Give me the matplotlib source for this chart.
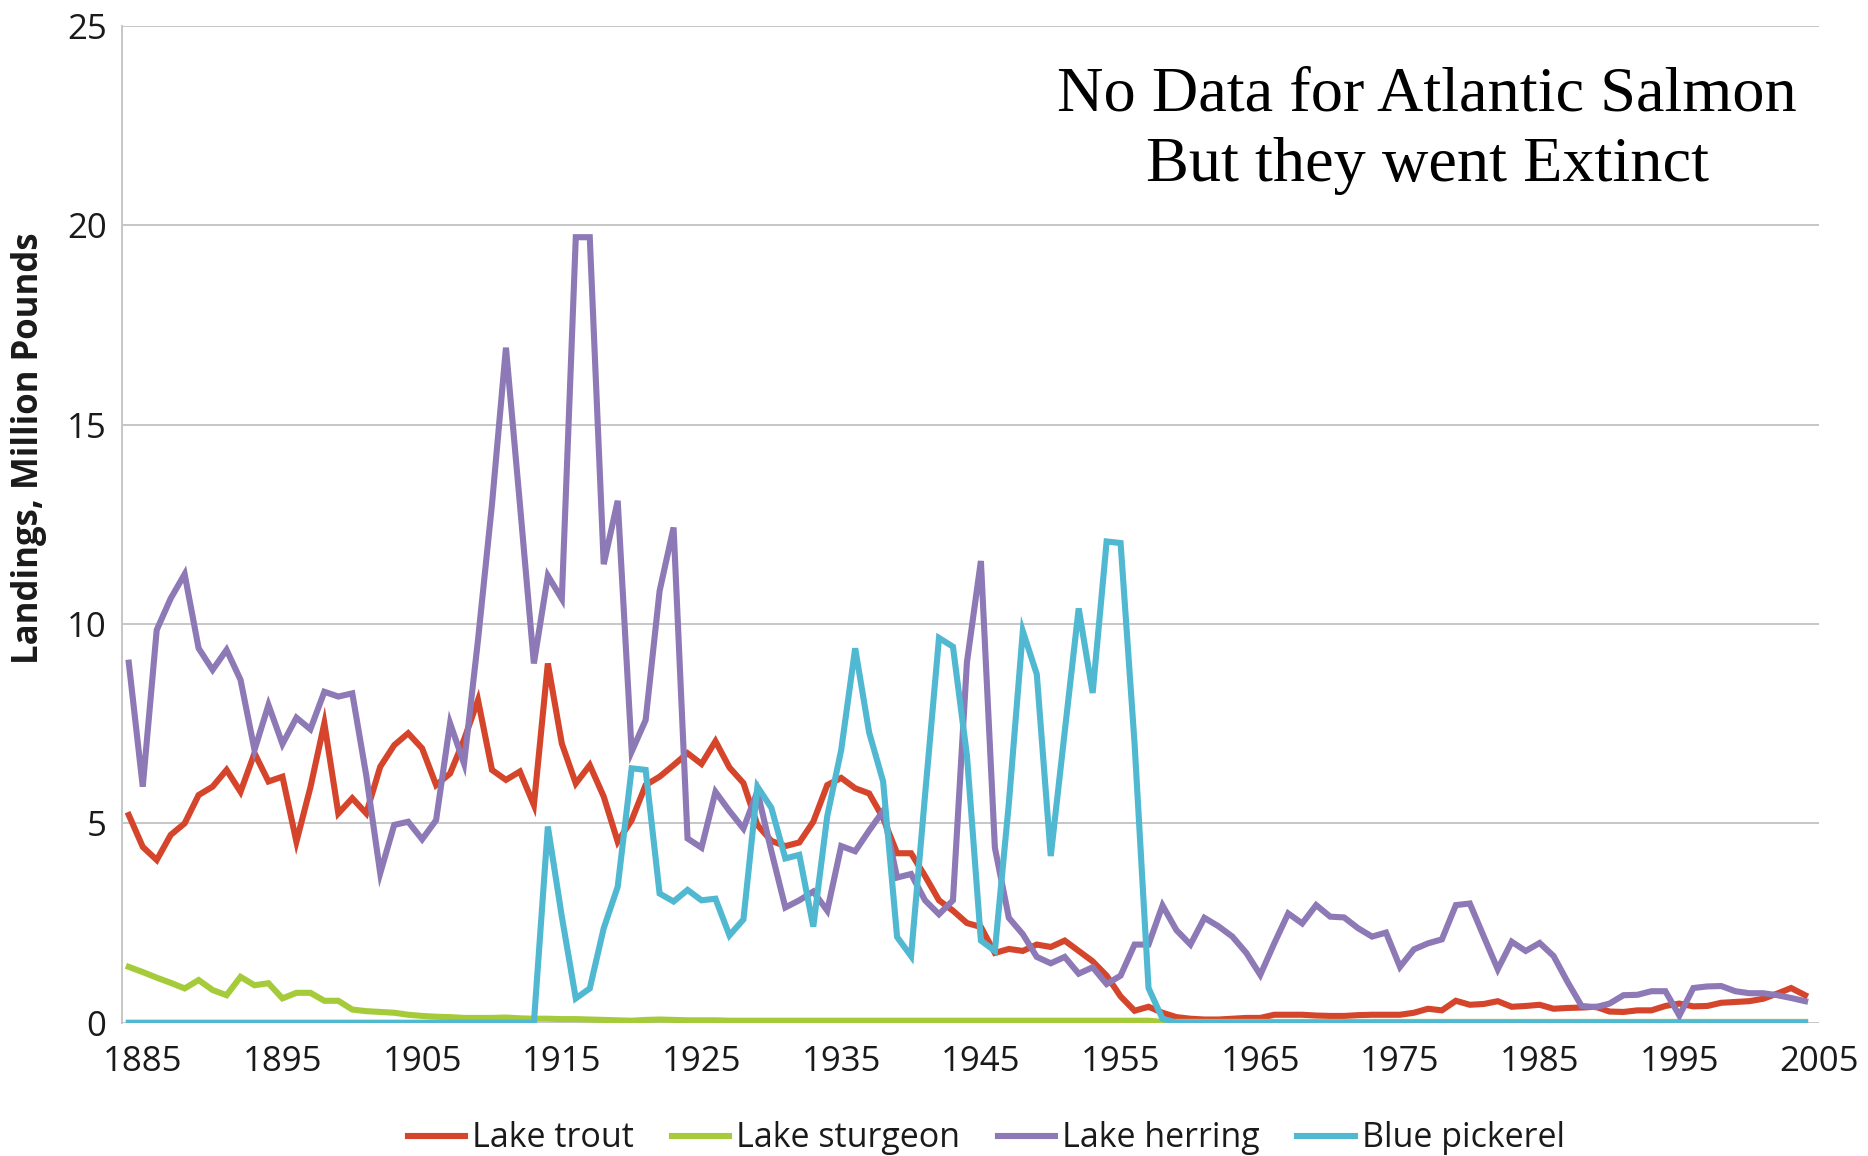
import numpy as np
import matplotlib
matplotlib.use("Agg")
import matplotlib.pyplot as plt

# =============================
# Data (million pounds, 1884-2004)
# =============================
years = np.arange(1884, 2005)

lake_trout = [
    5.21, 4.41, 4.08, 4.71, 5.00, 5.71, 5.92, 6.34, 5.79, 6.76,   # 1884-1893
    6.05, 6.17, 4.54, 5.90, 7.51, 5.25, 5.63, 5.25, 6.42, 6.96,   # 1894-1903
    7.26, 6.88, 5.96, 6.25, 7.10, 8.09, 6.34, 6.09, 6.30, 5.46,   # 1904-1913
    9.01, 7.00, 6.00, 6.46, 5.67, 4.54, 5.08, 5.96, 6.17, 6.46,   # 1914-1923
    6.76, 6.49, 7.06, 6.40, 6.01, 4.96, 4.56, 4.43, 4.52, 5.04,   # 1924-1933
    5.96, 6.14, 5.88, 5.75, 5.13, 4.25, 4.25, 3.68, 3.07, 2.81,   # 1934-1943
    2.50, 2.40, 1.75, 1.85, 1.80, 1.96, 1.90, 2.06, 1.80, 1.54,   # 1944-1953
    1.18, 0.66, 0.30, 0.40, 0.25, 0.14, 0.10, 0.08, 0.08, 0.10,   # 1954-1963
    0.12, 0.12, 0.20, 0.20, 0.20, 0.18, 0.17, 0.17, 0.19, 0.20,   # 1964-1973
    0.20, 0.20, 0.25, 0.35, 0.31, 0.55, 0.45, 0.47, 0.54, 0.40,   # 1974-1983
    0.42, 0.45, 0.35, 0.37, 0.38, 0.40, 0.28, 0.27, 0.31, 0.31,   # 1984-1993
    0.42, 0.48, 0.41, 0.42, 0.50, 0.52, 0.54, 0.60, 0.73, 0.87,   # 1994-2003
    0.69,                                                         # 2004
]

lake_sturgeon = [
    1.40, 1.27, 1.13, 1.00, 0.86, 1.07, 0.82, 0.69, 1.15, 0.94,
    0.99, 0.61, 0.75, 0.75, 0.55, 0.55, 0.33, 0.29, 0.27, 0.25,
    0.20, 0.17, 0.15, 0.14, 0.12, 0.12, 0.12, 0.13, 0.11, 0.10,
    0.10, 0.09, 0.09, 0.08, 0.07, 0.06, 0.05, 0.07, 0.08, 0.07,
    0.06, 0.06, 0.06, 0.05, 0.05, 0.05, 0.05, 0.05, 0.05, 0.05,
    0.05, 0.05, 0.05, 0.05, 0.05, 0.05, 0.05, 0.05, 0.05, 0.05,
    0.05, 0.05, 0.05, 0.05, 0.05, 0.05, 0.05, 0.05, 0.05, 0.05,
    0.05, 0.05, 0.05, 0.05, 0.02, 0.02, 0.02, 0.02, 0.02, 0.02,
    0.02, 0.02, 0.02, 0.02, 0.02, 0.02, 0.02, 0.02, 0.02, 0.02,
    0.02, 0.02, 0.02, 0.02, 0.02, 0.02, 0.02, 0.02, 0.02, 0.02,
    0.02, 0.02, 0.02, 0.02, 0.02, 0.02, 0.02, 0.02, 0.02, 0.02,
    0.02, 0.02, 0.02, 0.02, 0.02, 0.02, 0.02, 0.02, 0.02, 0.02,
    0.02,
]

lake_herring = [
    9.03, 5.92, 9.85, 10.64, 11.25, 9.39, 8.85, 9.35, 8.60, 6.84,
    7.97, 6.99, 7.65, 7.36, 8.30, 8.18, 8.26, 6.20, 3.75, 4.96,
    5.04, 4.60, 5.08, 7.51, 6.50, 9.60, 13.00, 16.93, 13.00, 9.01,
    11.21, 10.63, 19.70, 19.70, 11.50, 13.09, 6.80, 7.59, 10.83, 12.42,
    4.62, 4.39, 5.79, 5.31, 4.87, 5.80, 4.30, 2.89, 3.07, 3.29,
    2.81, 4.43, 4.30, 4.82, 5.31, 3.64, 3.73, 3.07, 2.72, 3.07,
    9.04, 11.58, 4.39, 2.63, 2.22, 1.65, 1.49, 1.65, 1.23, 1.39,
    0.97, 1.18, 1.96, 1.96, 2.94, 2.32, 1.96, 2.63, 2.42, 2.16,
    1.75, 1.20, 1.99, 2.74, 2.49, 2.95, 2.66, 2.64, 2.37, 2.16,
    2.26, 1.40, 1.84, 1.99, 2.09, 2.95, 2.99, 2.16, 1.34, 2.03,
    1.80, 2.00, 1.67, 1.02, 0.42, 0.39, 0.48, 0.69, 0.70, 0.79,
    0.79, 0.18, 0.87, 0.91, 0.92, 0.79, 0.74, 0.74, 0.69, 0.62,
    0.54,
]

blue_pickerel = [0.0] * 30 + [
    4.92, 2.66, 0.61, 0.86, 2.37, 3.41, 6.38, 6.34, 3.24, 3.04,   # 1914-1923
    3.33, 3.07, 3.11, 2.19, 2.59, 5.92, 5.39, 4.12, 4.21, 2.41,   # 1924-1933
    5.18, 6.84, 9.39, 7.28, 6.05, 2.15, 1.67, 5.70, 9.65, 9.43,   # 1934-1943
    6.70, 2.06, 1.80, 5.50, 9.82, 8.74, 4.18, 7.30, 10.39, 8.27,  # 1944-1953
    12.07, 12.03, 7.00, 0.87, 0.10,                               # 1954-1958
] + [0.0] * 46

series_names = ["Lake trout", "Lake sturgeon", "Lake herring", "Blue pickerel"]
series_colors = ["#d5452b", "#a6cb3a", "#8d79b5", "#51b8d2"]

x_ticks = np.arange(1885, 2006, 10)
y_ticks = [0, 5, 10, 15, 20, 25]

# =============================
# Figure
# =============================
plt.rcParams["font.family"] = ["Open Sans", "DejaVu Sans"]

fig = plt.figure(figsize=(18.68, 11.56), dpi=100)
ax = fig.add_axes([0.0652, 0.1153, 0.9086, 0.8623])

for vals, name, col in zip([lake_trout, lake_sturgeon, lake_herring, blue_pickerel],
                           series_names, series_colors):
    ax.plot(years, vals, color=col, lw=4.4, label=name, solid_joinstyle="miter")

ax.set_xlim(1883.5, 2005)
ax.set_ylim(0, 25)
ax.set_xticks(x_ticks)
ax.set_yticks(y_ticks)
ax.tick_params(axis="both", length=0, labelsize=25, colors="#1a1a1a")
ax.tick_params(axis="x", pad=16)
ax.tick_params(axis="y", pad=11)

ax.yaxis.grid(True, color="#c6c6c6", lw=1.4)
ax.set_axisbelow(True)
for s in ["top", "right", "bottom"]:
    ax.spines[s].set_visible(False)
ax.spines["left"].set_color("#c6c6c6")
ax.spines["left"].set_linewidth(1.4)

# y label
fig.text(0.0155, 0.612, "Landings, Million Pounds", rotation=90,
         ha="center", va="center", fontsize=25, fontweight="bold", color="#1a1a1a")

# annotation
fig.text(0.764, 0.887, "No Data for Atlantic Salmon\nBut they went Extinct",
         ha="center", va="center", fontsize=46.3, family="Liberation Serif",
         linespacing=1.3, color="black")

# legend
fig.legend(loc="lower center", bbox_to_anchor=(0.528, -0.026), ncol=4,
           frameon=False, fontsize=24.5, handlelength=1.7, handletextpad=0.2,
           columnspacing=1.1, labelcolor="#1a1a1a")

fig.savefig("out.png", dpi=100)
